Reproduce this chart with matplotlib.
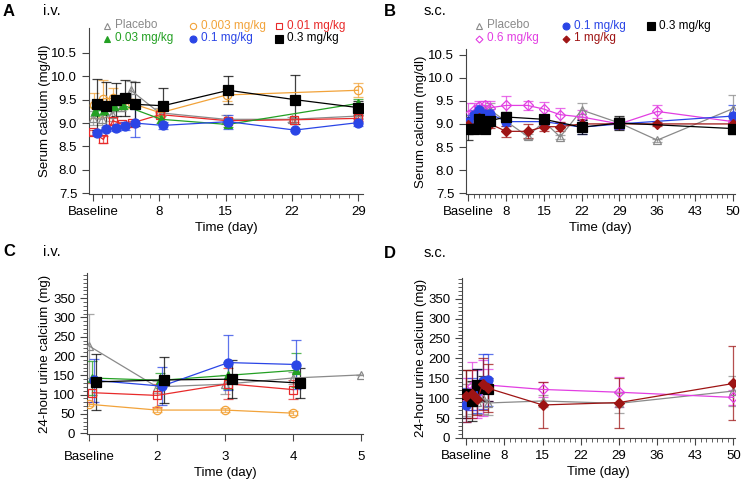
import matplotlib
matplotlib.use("Agg")
import matplotlib.pyplot as plt
from matplotlib.lines import Line2D
from matplotlib.ticker import MultipleLocator, FixedLocator

plt.rcParams['font.family'] = ['Liberation Sans', 'DejaVu Sans']
plt.rcParams['font.size'] = 9

# ---- colours
GRAY = "#8a8a8a"
ORANGE = "#f2a33a"
RED = "#e82a2a"
GREEN = "#23a023"
BLUE = "#2a45e6"
BLACK = "#000000"
MAGENTA = "#e23ee2"
DARKRED = "#9e1414"

# ---- panel A : serum calcium, i.v.
a_placebo_x = [1.0, 2.0, 3.0, 4.0, 5.0, 8.0, 15.0, 22.0, 29.0]
a_placebo_y = [9.10, 9.08, 9.20, 9.35, 9.70, 9.22, 9.08, 9.08, 9.15]
a_placebo_e = [0.15, 0.12, 0.15, 0.10, 0.20, 0.10, 0.10, 0.06, 0.05]
a_003_x = [1.1, 2.1, 3.1, 4.1, 5.1, 8.1, 15.1, 29.0]
a_003_y = [9.38, 9.52, 9.53, 9.45, 9.42, 9.22, 9.60, 9.70]
a_003_e = [0.27, 0.40, 0.22, 0.15, 0.10, 0.08, 0.12, 0.15]
a_001_x = [1.0, 2.1, 3.1, 4.1, 5.1, 8.1, 15.2, 22.2, 29.0]
a_001_y = [8.80, 8.65, 9.05, 8.97, 9.00, 9.18, 9.05, 9.07, 9.10]
a_001_e = [0.06, 0.08, 0.08, 0.06, 0.05, 0.05, 0.05, 0.04, 0.05]
a_03x_x = [1.2, 2.2, 3.2, 4.2, 8.2, 15.2, 29.0]
a_03x_y = [9.25, 9.28, 9.36, 9.38, 9.08, 8.97, 9.42]
a_03x_e = [0.10, 0.10, 0.10, 0.08, 0.08, 0.06, 0.10]
a_01_x = [1.4, 2.4, 3.4, 4.4, 5.4, 8.4, 15.3, 22.3, 29.0]
a_01_y = [8.79, 8.87, 8.90, 8.94, 9.00, 8.95, 9.03, 8.85, 9.01]
a_01_e = [0.04, 0.05, 0.06, 0.08, 0.30, 0.08, 0.15, 0.03, 0.08]
a_03_x = [1.4, 2.4, 3.4, 4.4, 5.4, 8.4, 15.3, 22.3, 29.0]
a_03_y = [9.40, 9.37, 9.50, 9.53, 9.40, 9.37, 9.70, 9.50, 9.33]
a_03_e = [0.54, 0.50, 0.35, 0.38, 0.47, 0.38, 0.30, 0.53, 0.15]

# ---- panel B : serum calcium, s.c.
b_placebo_x = [1, 2, 3, 4, 5, 12, 15, 18, 22, 29, 36, 50]
b_placebo_y = [8.95, 9.05, 9.20, 9.30, 9.30, 8.73, 9.05, 8.72, 9.30, 9.02, 8.65, 9.33]
b_placebo_e = [0.12, 0.10, 0.10, 0.12, 0.15, 0.05, 0.10, 0.05, 0.15, 0.12, 0.03, 0.30]
b_01_x = [1, 2, 3, 4, 5, 8, 15, 22, 29, 50]
b_01_y = [9.05, 9.20, 9.30, 9.22, 9.22, 9.05, 9.05, 8.93, 9.00, 9.17]
b_01_e = [0.15, 0.10, 0.10, 0.10, 0.10, 0.10, 0.08, 0.15, 0.10, 0.25]
b_03_x = [1, 2, 3, 4, 5, 8, 15, 22, 29, 50]
b_03_y = [8.90, 8.90, 9.10, 8.90, 9.07, 9.15, 9.10, 8.93, 9.02, 8.90]
b_03_e = [0.25, 0.10, 0.10, 0.10, 0.08, 0.10, 0.10, 0.15, 0.15, 0.12]
b_06_x = [1, 2, 3, 4, 5, 8, 12, 15, 18, 22, 29, 36, 50]
b_06_y = [9.20, 9.30, 9.38, 9.40, 9.35, 9.40, 9.40, 9.32, 9.20, 9.15, 9.00, 9.27, 9.05]
b_06_e = [0.25, 0.15, 0.12, 0.10, 0.15, 0.20, 0.10, 0.15, 0.15, 0.15, 0.10, 0.15, 0.12]
b_1_x = [1, 2, 3, 4, 5, 8, 12, 15, 18, 22, 29, 36, 50]
b_1_y = [8.98, 8.92, 9.12, 8.90, 9.00, 8.84, 8.84, 8.94, 8.94, 9.00, 9.00, 9.00, 9.00]
b_1_e = [0.10, 0.10, 0.10, 0.10, 0.08, 0.12, 0.15, 0.10, 0.10, 0.10, 0.08, 0.05, 0.08]

# ---- panel C : urine calcium, i.v.
c_placebo_x = [1.0, 2.0, 3.0, 4.0, 5.0]
c_placebo_y = [226, 120, 127, 143, 151]
c_placebo_e = [84, 15, 25, 15, 0]
c_003_x = [1.0, 2.0, 3.0, 4.0]
c_003_y = [75, 60, 60, 52]
c_003_e = [5, 5, 6, 5]
c_001_x = [1.05, 2.0, 3.05, 4.0]
c_001_y = [105, 98, 128, 113]
c_001_e = [25, 30, 40, 25]
c_03x_x = [1.05, 2.05, 3.05, 4.05]
c_03x_y = [143, 137, 150, 163]
c_03x_e = [45, 20, 35, 44]
c_01_x = [1.07, 2.07, 3.05, 4.05]
c_01_y = [137, 122, 183, 178]
c_01_e = [55, 50, 72, 64]
c_03_x = [1.1, 2.1, 3.1, 4.1]
c_03_y = [133, 138, 140, 130]
c_03_e = [72, 60, 50, 40]

# ---- panel D : urine calcium, s.c.
d_placebo_x = [1, 2, 3, 4, 5, 15, 29, 50]
d_placebo_y = [95, 100, 90, 100, 88, 93, 87, 118]
d_placebo_e = [40, 40, 30, 40, 30, 15, 25, 37]
d_01_x = [1, 2, 3, 4, 5]
d_01_y = [83, 110, 118, 142, 145]
d_01_e = [42, 40, 55, 70, 65]
d_03_x = [1, 2, 3, 4, 5]
d_03_y = [110, 92, 133, 125, 122]
d_03_e = [60, 50, 40, 30, 30]
d_06_x = [1, 2, 3, 4, 5, 15, 29, 50]
d_06_y = [100, 130, 110, 125, 133, 122, 115, 102]
d_06_e = [50, 60, 60, 70, 40, 18, 38, 18]
d_1_x = [1, 2, 3, 4, 5, 15, 29, 50]
d_1_y = [105, 110, 97, 135, 125, 83, 89, 137]
d_1_e = [65, 60, 40, 65, 60, 58, 63, 93]

iv_ticks = [1, 8, 15, 22, 29]
iv_labels = ["Baseline", "8", "15", "22", "29"]
sc_ticks = [1, 8, 15, 22, 29, 36, 43, 50]
sc_labels = ["Baseline", "8", "15", "22", "29", "36", "43", "50"]
c_ticks = [1, 2, 3, 4, 5]
c_labels = ["Baseline", "2", "3", "4", "5"]

# marker styles: (marker, colour, filled, size)
STY = {
    "Placebo": ("^", GRAY, False, 6),
    "0.003": ("o", ORANGE, False, 6),
    "0.01": ("s", RED, False, 6),
    "0.03": ("^", GREEN, True, 6),
    "0.1": ("o", BLUE, True, 6.5),
    "0.3": ("s", BLACK, True, 7),
    "0.6": ("D", MAGENTA, False, 5),
    "1": ("D", DARKRED, True, 5),
}


def draw(ax, key, x, y, e):
    m, c, filled, ms = STY[key]
    ax.errorbar(x, y, yerr=e, ls='none', ecolor=c, elinewidth=0.9,
                capsize=3.5, capthick=0.9, alpha=0.75, zorder=2)
    ax.plot(x, y, color=c, lw=0.9, marker=m, ms=ms,
            mfc=c if filled else 'none', mec=c, mew=0.9, zorder=3)


def style(ax):
    for s in ("top", "right"):
        ax.spines[s].set_visible(False)
    for s in ("left", "bottom"):
        ax.spines[s].set_color("#444444")
        ax.spines[s].set_linewidth(0.8)
    ax.tick_params(which='major', length=5, width=0.8, color="#444444", labelsize=9.5)
    ax.tick_params(which='minor', length=3, width=0.6, color="#444444")


fig = plt.figure(figsize=(7.43, 4.83), dpi=100)
W, H = 743.0, 483.0


def rect(l, t, r, b):
    return [l / W, 1 - b / H, (r - l) / W, (b - t) / H]


def legend(keys, labels, cols, rows):
    # key entries laid out in a fixed grid (pixel positions of the marker)
    for i, (k, lab) in enumerate(zip(keys, labels)):
        m, c, filled, ms = STY[k]
        x = cols[i % 3]
        y = rows[i // 3]
        fig.add_artist(Line2D([x / W], [1 - y / H], transform=fig.transFigure,
                              ls='none', marker=m, ms=ms - 1.5, color=c,
                              mfc=c if filled else 'none', mec=c, mew=0.8))
        fig.text((x + 8) / W, 1 - y / H, lab, color=c, fontsize=8.5, va='center')


axA = fig.add_axes(rect(89, 28, 363, 194))
axB = fig.add_axes(rect(466, 49, 735, 194))
axC = fig.add_axes(rect(87, 273, 363, 434))
axD = fig.add_axes(rect(462, 278, 735, 438))

# A
draw(axA, "Placebo", a_placebo_x, a_placebo_y, a_placebo_e)
draw(axA, "0.003", a_003_x, a_003_y, a_003_e)
draw(axA, "0.01", a_001_x, a_001_y, a_001_e)
draw(axA, "0.03", a_03x_x, a_03x_y, a_03x_e)
draw(axA, "0.1", a_01_x, a_01_y, a_01_e)
draw(axA, "0.3", a_03_x, a_03_y, a_03_e)
axA.set_xlim(0.58, 29.5)
axA.set_ylim(7.485, 11.03)

# B
draw(axB, "Placebo", b_placebo_x, b_placebo_y, b_placebo_e)
draw(axB, "0.6", b_06_x, b_06_y, b_06_e)
draw(axB, "0.1", b_01_x, b_01_y, b_01_e)
draw(axB, "1", b_1_x, b_1_y, b_1_e)
draw(axB, "0.3", b_03_x, b_03_y, b_03_e)
axB.set_xlim(0.56, 50.4)
axB.set_ylim(7.485, 10.62)

# C
draw(axC, "Placebo", c_placebo_x, c_placebo_y, c_placebo_e)
draw(axC, "0.003", c_003_x, c_003_y, c_003_e)
draw(axC, "0.01", c_001_x, c_001_y, c_001_e)
draw(axC, "0.03", c_03x_x, c_03x_y, c_03x_e)
draw(axC, "0.1", c_01_x, c_01_y, c_01_e)
draw(axC, "0.3", c_03_x, c_03_y, c_03_e)
axC.set_xlim(0.97, 5.03)
axC.set_ylim(-2, 415)

# D
draw(axD, "Placebo", d_placebo_x, d_placebo_y, d_placebo_e)
draw(axD, "0.6", d_06_x, d_06_y, d_06_e)
draw(axD, "0.1", d_01_x, d_01_y, d_01_e)
draw(axD, "0.3", d_03_x, d_03_y, d_03_e)
draw(axD, "1", d_1_x, d_1_y, d_1_e)
axD.set_xlim(0.21, 50.3)
axD.set_ylim(0, 402)

for ax in (axA, axB):
    style(ax)
    ax.yaxis.set_major_locator(FixedLocator([7.5, 8.0, 8.5, 9.0, 9.5, 10.0, 10.5]))
    ax.set_yticklabels(["7.5", "8.0", "8.5", "9.0", "9.5", "10.0", "10.5"])
    ax.set_ylabel("Serum calcium (mg/dl)", fontsize=9.5)
    ax.xaxis.set_minor_locator(MultipleLocator(1))
for ax in (axC, axD):
    style(ax)
    ax.yaxis.set_major_locator(FixedLocator(list(range(0, 351, 50))))
    ax.yaxis.set_minor_locator(MultipleLocator(10))
    ax.set_ylabel("24-hour urine calcium (mg)", fontsize=9.5)
axD.xaxis.set_minor_locator(MultipleLocator(1))
axC.tick_params(axis='x', which='major', pad=7)

axA.set_xticks(iv_ticks, iv_labels)
axB.set_xticks(sc_ticks, sc_labels)
axC.set_xticks(c_ticks, c_labels)
axD.set_xticks(sc_ticks, sc_labels)
for ax in (axA, axB, axC, axD):
    ax.set_xlabel("Time (day)", fontsize=9.5, labelpad=3)

axA.yaxis.set_label_coords(-0.138, 0.5)
axB.yaxis.set_label_coords(-0.146, 0.5)
axC.yaxis.set_label_coords(-0.13, 0.5)
axD.yaxis.set_label_coords(-0.13, 0.5)

legend(["Placebo", "0.003", "0.01", "0.03", "0.1", "0.3"],
       ["Placebo", "0.003 mg/kg", "0.01 mg/kg", "0.03 mg/kg", "0.1 mg/kg", "0.3 mg/kg"],
       [107, 193, 279], [25.5, 38.5])
legend(["Placebo", "0.1", "0.3", "0.6", "1"],
       ["Placebo", "0.1 mg/kg", "0.3 mg/kg", "0.6 mg/kg", "1 mg/kg"],
       [479, 566, 651], [25.5, 38.5])

# panel letters and route labels
for x, y, letter, route in [(3, 11, "A", "i.v."), (384, 11, "B", "s.c."),
                             (3, 252, "C", "i.v."), (384, 253, "D", "s.c.")]:
    fig.text(x / W, 1 - y / H, letter, fontsize=12, fontweight='bold', va='center')
    fig.text((x + 40) / W, 1 - y / H, route, fontsize=10.5, va='center')

fig.savefig("out.png", dpi=100)
